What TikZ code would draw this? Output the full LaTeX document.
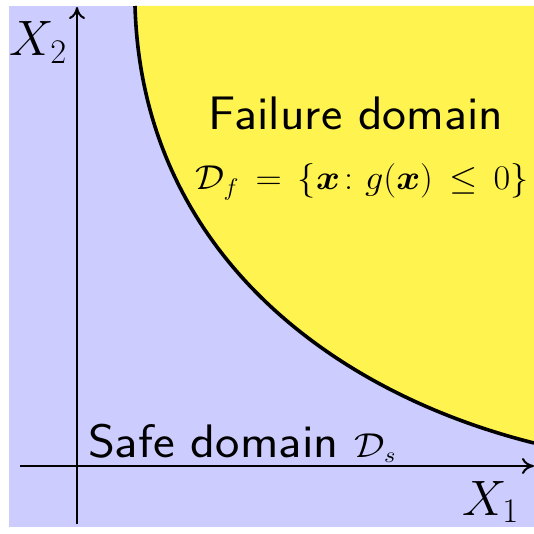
\documentclass[tikz,border=0pt]{standalone}
\usepackage{amsmath,amssymb,bm}
\usetikzlibrary{arrows.meta}
\definecolor{safecol}{RGB}{204,204,255}
\definecolor{failcol}{RGB}{255,243,80}
\begin{document}
\begin{tikzpicture}[x=0.5pt,y=-0.5pt,
  axis/.style={line width=1pt,-{To[length=6pt,width=8pt]}},
  limit/.style={line width=1.8pt},
  lbl/.style={inner sep=0pt,outer sep=0pt}]
\useasboundingbox (0,0) rectangle (534,534);
\fill[safecol] (9,6) rectangle (534,527);
\coordinate (ctop) at (135,6);
\coordinate (cright) at (534,443);
\coordinate (corner) at (534,6);
\fill[failcol] (ctop) .. controls (142,250) and (330,392) .. (cright) -- (corner) -- cycle;
\draw[limit] (ctop) .. controls (142,250) and (330,392) .. (cright);
\coordinate (x1s) at (20,466);
\coordinate (x1e) at (534,466);
\coordinate (x2s) at (77,524);
\coordinate (x2e) at (77,7);
\draw[axis] (x1s) -- (x1e);
\draw[axis] (x2s) -- (x2e);
\node[lbl,anchor=base west] (x2lbl) at (10,56) {\fontsize{25}{30}\selectfont$X_2$};
\node[lbl,anchor=base west] (x1lbl) at (462,515) {\fontsize{25}{30}\selectfont$X_1$};
\node[lbl,anchor=base,xscale=1.08] (fail) at (356,130) {\fontsize{23.5}{27}\selectfont\sffamily Failure domain};
\node[lbl,anchor=base,xscale=1.05] (faileq) at (362,190) {\fontsize{18}{21}\selectfont$\mathcal{D}_f\,=\,\{\bm{x}\colon g(\bm{x})\,\leq\,0\}$};
\node[lbl,anchor=base west,xscale=1.1] (safe) at (88,457) {\fontsize{23.5}{27}\selectfont\sffamily Safe domain {\fontsize{16}{19}\selectfont$\mathcal{D}_s$}};
\end{tikzpicture}
\end{document}
